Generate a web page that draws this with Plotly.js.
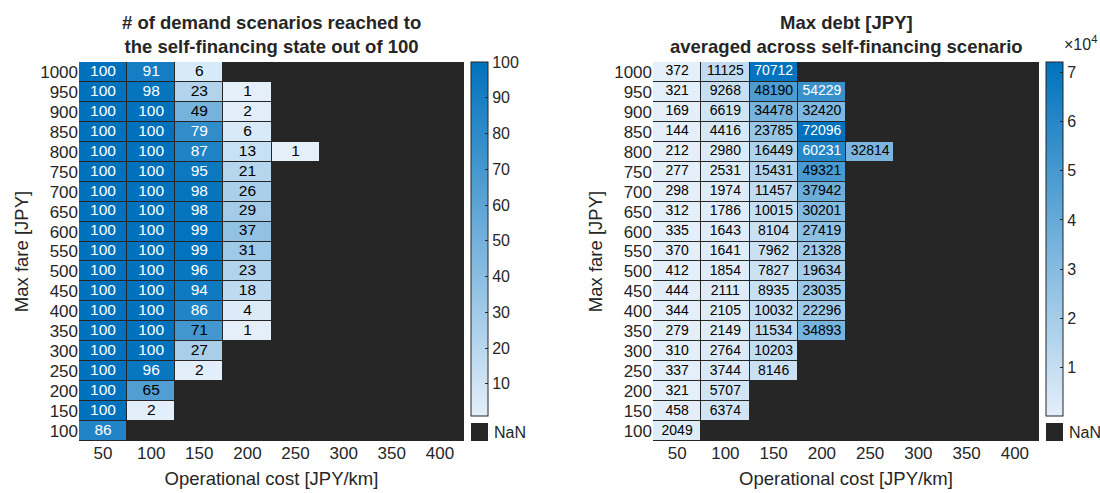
<!DOCTYPE html>
<html>
<head>
<meta charset="utf-8">
<script src="https://cdn.plot.ly/plotly-3.0.1.min.js"></script>
<style>html,body{margin:0;padding:0;background:#fff;}#chart{width:1100px;height:493px;}</style>
</head>
<body>
<div id="chart"></div>
<script>
// Operational cost [JPY/km] (columns)
var costs = [50, 100, 150, 200, 250, 300, 350, 400];
// Max fare [JPY] (rows, top to bottom)
var fares = [1000, 950, 900, 850, 800, 750, 700, 650, 600, 550, 500, 450, 400, 350, 300, 250, 200, 150, 100];

// # of demand scenarios reaching self-financing state (out of 100); missing = NaN
var scenarios = [
  [100, 91, 6],
  [100, 98, 23, 1],
  [100, 100, 49, 2],
  [100, 100, 79, 6],
  [100, 100, 87, 13, 1],
  [100, 100, 95, 21],
  [100, 100, 98, 26],
  [100, 100, 98, 29],
  [100, 100, 99, 37],
  [100, 100, 99, 31],
  [100, 100, 96, 23],
  [100, 100, 94, 18],
  [100, 100, 86, 4],
  [100, 100, 71, 1],
  [100, 100, 27],
  [100, 96, 2],
  [100, 65],
  [100, 2],
  [86]
];

// Max debt [JPY] averaged across self-financing scenarios
var maxDebt = [
  [372, 11125, 70712],
  [321, 9268, 48190, 54229],
  [169, 6619, 34478, 32420],
  [144, 4416, 23785, 72096],
  [212, 2980, 16449, 60231, 32814],
  [277, 2531, 15431, 49321],
  [298, 1974, 11457, 37942],
  [312, 1786, 10015, 30201],
  [335, 1643, 8104, 27419],
  [370, 1641, 7962, 21328],
  [412, 1854, 7827, 19634],
  [444, 2111, 8935, 23035],
  [344, 2105, 10032, 22296],
  [279, 2149, 11534, 34893],
  [310, 2764, 10203],
  [337, 3744, 8146],
  [321, 5707],
  [458, 6374],
  [2049]
];

var leftTicks = [10, 20, 30, 40, 50, 60, 70, 80, 90, 100];
var rightTicks = [10000, 20000, 30000, 40000, 50000, 60000, 70000];
var rightTickText = ['1', '2', '3', '4', '5', '6', '7'];

var W = 1100, H = 493;
var INK = '#262626';
var FONT = 'Liberation Sans, Arial, sans-serif';
var cscale = [[0, 'rgb(228,239,250)'], [1, 'rgb(0,114,189)']];

function pad(rows) {
  return rows.map(function (r) {
    var o = [];
    for (var i = 0; i < costs.length; i++) o.push(i < r.length ? r[i] : null);
    return o;
  });
}
function flatStats(rows) {
  var all = [];
  rows.forEach(function (r) { r.forEach(function (v) { all.push(v); }); });
  return { min: Math.min.apply(null, all), max: Math.max.apply(null, all) };
}
function textTrace(rows, xa, ya, size, st) {
  var xs = [], ys = [], ts = [], cs = [];
  rows.forEach(function (r, j) {
    r.forEach(function (v, i) {
      xs.push(costs[i]); ys.push(fares[j]); ts.push(String(v));
      var n = (v - st.min) / (st.max - st.min);
      cs.push(n > 0.73 ? '#ffffff' : '#000000');
    });
  });
  return {
    type: 'scatter', mode: 'text', x: xs, y: ys, text: ts, xaxis: xa, yaxis: ya,
    textfont: { family: FONT, size: size, color: cs }, hoverinfo: 'skip', showlegend: false
  };
}

var stL = flatStats(scenarios), stR = flatStats(maxDebt);
var cbTop = 1 - 62 / H;
var cbLen = 416 - 62;

var traces = [
  {
    type: 'heatmap', x: costs, y: fares, z: pad(scenarios), xaxis: 'x', yaxis: 'y',
    colorscale: cscale, zmin: stL.min, zmax: stL.max, xgap: 1, ygap: 1, hoverongaps: false,
    colorbar: {
      x: 471 / W, xanchor: 'left', xref: 'paper', xpad: 0, ypad: 0,
      y: cbTop, yanchor: 'top', len: cbLen, lenmode: 'pixels', thickness: 17, thicknessmode: 'pixels',
      outlinewidth: 1, outlinecolor: INK, ticks: 'inside', ticklen: 3, tickcolor: INK,
      tickvals: leftTicks, tickfont: { family: FONT, size: 16, color: INK }
    }
  },
  textTrace(scenarios, 'x', 'y', 15.5, stL),
  {
    type: 'heatmap', x: costs, y: fares, z: pad(maxDebt), xaxis: 'x2', yaxis: 'y2',
    colorscale: cscale, zmin: stR.min, zmax: stR.max, xgap: 1, ygap: 1, hoverongaps: false,
    colorbar: {
      x: 1046 / W, xanchor: 'left', xref: 'paper', xpad: 0, ypad: 0,
      y: cbTop, yanchor: 'top', len: cbLen, lenmode: 'pixels', thickness: 17, thicknessmode: 'pixels',
      outlinewidth: 1, outlinecolor: INK, ticks: 'inside', ticklen: 3, tickcolor: INK,
      tickvals: rightTicks, ticktext: rightTickText, tickfont: { family: FONT, size: 16, color: INK }
    }
  },
  textTrace(maxDebt, 'x2', 'y2', 14, stR)
];

function xax(dom) {
  return {
    domain: dom, range: [25, 425], tickvals: costs, ticks: '', showgrid: false, zeroline: false,
    showline: false, fixedrange: true, tickfont: { family: FONT, size: 17, color: INK },
    title: { text: 'Operational cost [JPY/km]', font: { family: FONT, size: 18.5, color: INK }, standoff: 10 }
  };
}
function yax(anchor) {
  return {
    domain: [1 - 441 / H, 1 - 62 / H], range: [75, 1025], tickvals: fares, ticks: '', showgrid: false,
    zeroline: false, showline: false, fixedrange: true, anchor: anchor,
    tickfont: { family: FONT, size: 17, color: INK },
    title: { text: 'Max fare [JPY]', font: { family: FONT, size: 18.5, color: INK }, standoff: 6 }
  };
}

var x1 = xax([79 / W, 464 / W]); x1.anchor = 'y';
var x2 = xax([653 / W, 1039 / W]); x2.anchor = 'y2';

var layout = {
  width: W, height: H, margin: { l: 0, r: 0, t: 0, b: 0 },
  paper_bgcolor: '#ffffff', plot_bgcolor: INK, showlegend: false,
  font: { family: FONT, color: INK },
  xaxis: x1, yaxis: yax('x'), xaxis2: x2, yaxis2: yax('x2'),
  shapes: [
    { type: 'rect', xref: 'paper', yref: 'paper', x0: 471 / W, x1: 488 / W, y0: 1 - 441 / H, y1: 1 - 423 / H, fillcolor: INK, line: { width: 0 } },
    { type: 'rect', xref: 'paper', yref: 'paper', x0: 1046 / W, x1: 1063 / W, y0: 1 - 441 / H, y1: 1 - 423 / H, fillcolor: INK, line: { width: 0 } }
  ],
  annotations: [
    { xref: 'paper', yref: 'paper', x: 271.5 / W, y: 1 - 34.7 / H, xanchor: 'center', yanchor: 'middle', showarrow: false,
      text: '<b># of demand scenarios reached to</b><br><b>the self-financing state out of 100</b>',
      font: { family: FONT, size: 18.5, color: INK } },
    { xref: 'paper', yref: 'paper', x: 846 / W, y: 1 - 34.7 / H, xanchor: 'center', yanchor: 'middle', showarrow: false,
      text: '<b>Max debt [JPY]</b><br><b>averaged across self-financing scenario</b>',
      font: { family: FONT, size: 18.5, color: INK } },
    { xref: 'paper', yref: 'paper', x: 492 / W, y: 1 - 432 / H, xanchor: 'left', yanchor: 'middle', showarrow: false,
      text: 'NaN', font: { family: FONT, size: 16, color: INK } },
    { xref: 'paper', yref: 'paper', x: 1067 / W, y: 1 - 432 / H, xanchor: 'left', yanchor: 'middle', showarrow: false,
      text: 'NaN', font: { family: FONT, size: 16, color: INK } },
    { xref: 'paper', yref: 'paper', x: 1062 / W, y: 1 - 43 / H, xanchor: 'left', yanchor: 'middle', showarrow: false,
      text: '×10<sup>4</sup>', font: { family: FONT, size: 16, color: INK } }
  ]
};

Plotly.newPlot('chart', traces, layout, { displayModeBar: false, staticPlot: true });
</script>
</body>
</html>
